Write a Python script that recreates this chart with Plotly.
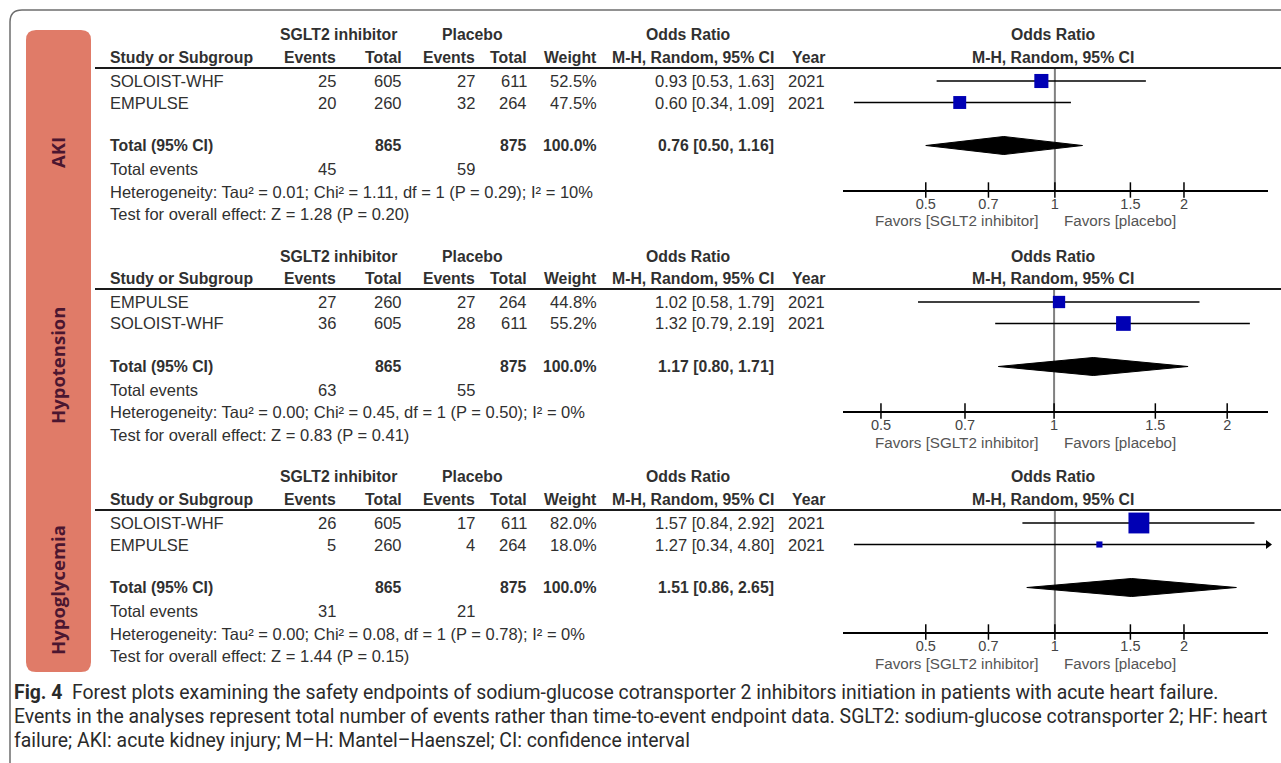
import math
import plotly.graph_objects as go

W, H = 1281, 763

# ---------------- data ----------------
outcomes = ["AKI", "Hypotension", "Hypoglycemia"]
studies = [["SOLOIST-WHF", "EMPULSE"], ["EMPULSE", "SOLOIST-WHF"], ["SOLOIST-WHF", "EMPULSE"]]
sglt2_events = [[25, 20], [27, 36], [26, 5]]
sglt2_total = [[605, 260], [260, 605], [605, 260]]
placebo_events = [[27, 32], [27, 28], [17, 4]]
placebo_total = [[611, 264], [264, 611], [611, 264]]
weights = [[52.5, 47.5], [44.8, 55.2], [82.0, 18.0]]
or_est = [[0.93, 0.60], [1.02, 1.32], [1.57, 1.27]]
or_lo = [[0.53, 0.34], [0.58, 0.79], [0.84, 0.34]]
or_hi = [[1.63, 1.09], [1.79, 2.19], [2.92, 4.80]]
years = [[2021, 2021], [2021, 2021], [2021, 2021]]
pooled_est = [0.76, 1.17, 1.51]
pooled_lo = [0.50, 0.80, 0.86]
pooled_hi = [1.16, 1.71, 2.65]
total_sglt2 = [865, 865, 865]
total_placebo = [875, 875, 875]
events_sglt2 = [45, 63, 31]
events_placebo = [59, 55, 21]
tau2 = ["0.01", "0.00", "0.00"]
chi2 = ["1.11", "0.45", "0.08"]
df_het = [1, 1, 1]
p_het = ["0.29", "0.50", "0.78"]
i2 = [10, 0, 0]
z_val = ["1.28", "0.83", "1.44"]
p_z = ["0.20", "0.41", "0.15"]
tick_vals = [0.5, 0.7, 1, 1.5, 2]
tick_text = ["0.5", "0.7", "1", "1.5", "2"]
axis_ranges = [(0.3206, 3.14), (0.4295, 2.355), (0.3206, 3.14)]

caption_lines = [
    "<b>Fig. 4</b>  Forest plots examining the safety endpoints of sodium-glucose cotransporter 2 inhibitors initiation in patients with acute heart failure.",
    "Events in the analyses represent total number of events rather than time-to-event endpoint data. SGLT2: sodium-glucose cotransporter 2; HF: heart",
    "failure; AKI: acute kidney injury; M\u2013H: Mantel\u2013Haenszel; CI: confidence interval",
]

# ---------------- layout helpers ----------------
def px(x):
    return x / W


def py(y):
    return 1 - y / H


TFONT = "Liberation Sans, Arial, sans-serif"
TSIZE = 16.5
BSIZE = 15.8
TCOL = "#303030"
PANEL_OFF = [0, 221, 442]
ROW_PITCH = 21.5
ROW0 = 81  # pixel y of first study row in panel 1
LINE_Y = 68
AXIS_Y = 190
X0F, X1F = 843, 1268

annotations = []
shapes = []


def txt(x, y, s, anchor="left", bold=False, size=None, color=TCOL, font=TFONT):
    if size is None:
        size = BSIZE if bold else TSIZE
    if bold:
        s = "<b>" + s + "</b>"
    annotations.append(dict(x=px(x), y=py(y), xref="paper", yref="paper", text=s,
                            showarrow=False, xanchor=anchor, yanchor="middle",
                            font=dict(family=font, size=size, color=color)))


fig = go.Figure()

# outer rounded frame
r = 12
shapes.append(dict(type="path", xref="paper", yref="paper",
                   path=f"M {px(10)},{py(800)} L {px(10)},{py(10 + r)} Q {px(10)},{py(10)} {px(10 + r)},{py(10)} L {px(1300)},{py(10)}",
                   line=dict(color="#6e6e6e", width=1.5)))

# salmon label column
bx0, bx1, by0, by1, br = 26, 91, 30, 672, 10
shapes.append(dict(type="path", xref="paper", yref="paper",
                   path=(f"M {px(bx0 + br)},{py(by0)} L {px(bx1 - br)},{py(by0)} Q {px(bx1)},{py(by0)} {px(bx1)},{py(by0 + br)} "
                         f"L {px(bx1)},{py(by1 - br)} Q {px(bx1)},{py(by1)} {px(bx1 - br)},{py(by1)} "
                         f"L {px(bx0 + br)},{py(by1)} Q {px(bx0)},{py(by1)} {px(bx0)},{py(by1 - br)} "
                         f"L {px(bx0)},{py(by0 + br)} Q {px(bx0)},{py(by0)} {px(bx0 + br)},{py(by0)} Z"),
                   fillcolor="#E07B68", line=dict(width=0)))

label_centers = [153, 366, 590]
for lab, cy in zip(outcomes, label_centers):
    annotations.append(dict(x=px(57), y=py(cy), xref="paper", yref="paper", text="<b>" + lab + "</b>",
                            showarrow=False, textangle=-90, xanchor="center", yanchor="middle",
                            font=dict(family="Open Sans, Noto Sans, sans-serif", size=18.5, color="#4B1630")))

# column right edges
C_EV1, C_TOT1, C_EV2, C_TOT2, C_W, C_CI, C_YR = 338, 404, 477, 529, 599, 776, 827
X_LEFT = 108

for i in range(3):
    o = PANEL_OFF[i]
    # headers
    txt(338, 35 + o, "SGLT2 inhibitor", "center", True)
    txt(472, 35 + o, "Placebo", "center", True)
    txt(688, 35 + o, "Odds Ratio", "center", True)
    txt(1053, 35 + o, "Odds Ratio", "center", True)
    h2 = 57.5 + o
    txt(X_LEFT, h2, "Study or Subgroup", "left", True)
    txt(C_EV1, h2, "Events", "right", True)
    txt(C_TOT1, h2, "Total", "right", True)
    txt(C_EV2, h2, "Events", "right", True)
    txt(C_TOT2, h2, "Total", "right", True)
    txt(C_W, h2, "Weight", "right", True)
    txt(C_CI, h2, "M-H, Random, 95% CI", "right", True)
    txt(C_YR, h2, "Year", "right", True)
    txt(1053, h2, "M-H, Random, 95% CI", "center", True)
    # header line
    shapes.append(dict(type="line", xref="paper", yref="paper", x0=px(95), x1=px(1281),
                       y0=py(LINE_Y + o), y1=py(LINE_Y + o), line=dict(color="#1a1a1a", width=2)))
    # study rows
    for j in range(2):
        yy = ROW0 + j * ROW_PITCH + o
        txt(X_LEFT, yy, studies[i][j])
        txt(C_EV1, yy, str(sglt2_events[i][j]), "right")
        txt(C_TOT1, yy, str(sglt2_total[i][j]), "right")
        txt(C_EV2, yy, str(placebo_events[i][j]), "right")
        txt(C_TOT2, yy, str(placebo_total[i][j]), "right")
        txt(C_W, yy, f"{weights[i][j]:.1f}%", "right")
        txt(C_CI, yy, f"{or_est[i][j]:.2f} [{or_lo[i][j]:.2f}, {or_hi[i][j]:.2f}]", "right")
        txt(C_YR, yy, str(years[i][j]), "right")
    yt = 145 + o
    txt(X_LEFT, yt, "Total (95% CI)", "left", True)
    txt(C_TOT1, yt, str(total_sglt2[i]), "right", True)
    txt(C_TOT2, yt, str(total_placebo[i]), "right", True)
    txt(C_W, yt, "100.0%", "right", True)
    txt(C_CI, yt, f"{pooled_est[i]:.2f} [{pooled_lo[i]:.2f}, {pooled_hi[i]:.2f}]", "right", True)
    ye = 169 + o
    txt(X_LEFT, ye, "Total events")
    txt(C_EV1, ye, str(events_sglt2[i]), "right")
    txt(C_EV2, ye, str(events_placebo[i]), "right")
    txt(X_LEFT, 191.5 + o,
        f"Heterogeneity: Tau\u00b2 = {tau2[i]}; Chi\u00b2 = {chi2[i]}, df = {df_het[i]} (P = {p_het[i]}); I\u00b2 = {i2[i]}%")
    txt(X_LEFT, 214 + o, f"Test for overall effect: Z = {z_val[i]} (P = {p_z[i]})")
    # favours labels
    txt(1040, 221 + o, "Favors [SGLT2 inhibitor]", "right", size=15.2, color="#555555")
    txt(1062, 221 + o, "Favors [placebo]", "left", size=15.2, color="#555555")

    # ---------- forest plot ----------
    s = "" if i == 0 else str(i + 1)
    xa, ya = "x" + s, "y" + s
    ytop = (LINE_Y - ROW0) / ROW_PITCH
    ybot = (AXIS_Y - ROW0) / ROW_PITCH
    lo_r, hi_r = axis_ranges[i]
    # line of no effect
    fig.add_trace(go.Scatter(x=[1, 1], y=[ytop, ybot], mode="lines", xaxis=xa, yaxis=ya,
                             line=dict(color="#808080", width=2), hoverinfo="skip", showlegend=False))
    # CI lines
    for j in range(2):
        fig.add_trace(go.Scatter(x=[or_lo[i][j], or_hi[i][j]], y=[j, j], mode="lines", xaxis=xa, yaxis=ya,
                                 line=dict(color="black", width=1.3), showlegend=False))
        if or_hi[i][j] > hi_r:
            fig.add_trace(go.Scatter(x=[hi_r], y=[j], mode="markers", xaxis=xa, yaxis=ya, cliponaxis=False,
                                     marker=dict(symbol="triangle-right", size=8, color="black"),
                                     showlegend=False))
    # squares
    fig.add_trace(go.Scatter(x=or_est[i], y=[0, 1], mode="markers", xaxis=xa, yaxis=ya,
                             marker=dict(symbol="square", color="#0000B4", opacity=1,
                                         size=[2 + 0.23 * w for w in weights[i]], line=dict(width=0)),
                             showlegend=False))
    # diamond
    tr = 3
    hh = 9 / ROW_PITCH
    fig.add_trace(go.Scatter(x=[pooled_lo[i], pooled_est[i], pooled_hi[i], pooled_est[i], pooled_lo[i]],
                             y=[tr, tr - hh, tr, tr + hh, tr], mode="lines", fill="toself",
                             fillcolor="black", line=dict(color="black", width=1), xaxis=xa, yaxis=ya,
                             showlegend=False))
    # crossing tick marks
    fig.add_trace(go.Scatter(x=tick_vals, y=[ybot] * len(tick_vals), mode="markers", xaxis=xa, yaxis=ya,
                             cliponaxis=False,
                             marker=dict(symbol="line-ns", size=11, line=dict(color="black", width=1.5)),
                             showlegend=False))
    fig.update_layout(**{
        ("xaxis" + s): dict(type="log", range=[math.log10(lo_r), math.log10(hi_r)],
                            domain=[px(X0F), px(X1F)], anchor=ya, showgrid=False, zeroline=False,
                            showline=True, linecolor="black", linewidth=2, ticks="",
                            tickmode="array", tickvals=tick_vals, ticktext=tick_text,
                            tickfont=dict(family=TFONT, size=14.5, color="#444444")),
        ("yaxis" + s): dict(range=[ybot, ytop], domain=[py(AXIS_Y + PANEL_OFF[i]), py(LINE_Y + PANEL_OFF[i])],
                            anchor=xa, visible=False),
    })

# caption
cap_y = [692, 716, 740]
for ln, yy in zip(caption_lines, cap_y):
    txt(12, yy, ln, "left", size=19.4, color="#2a2a2a", font="Roboto, Open Sans, sans-serif")

fig.update_layout(width=W, height=H, margin=dict(l=0, r=0, t=0, b=0),
                  paper_bgcolor="white", plot_bgcolor="rgba(0,0,0,0)",
                  annotations=annotations, shapes=shapes, showlegend=False)

fig.write_html("out.html", config={"displayModeBar": False},
               post_script="document.body.style.margin='0';document.body.style.padding='0';")
